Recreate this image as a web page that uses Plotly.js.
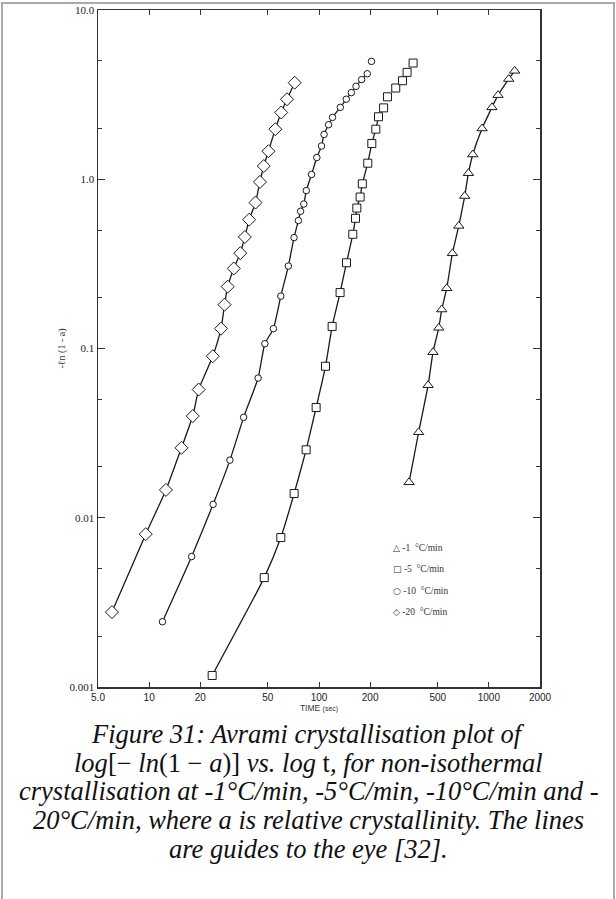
<!DOCTYPE html>
<html><head><meta charset="utf-8">
<script src="https://cdn.plot.ly/plotly-3.0.1.min.js"></script>
<style>
body{margin:0;background:#fff;}
#chart{position:absolute;left:0;top:0;}
#frame{position:absolute;left:1px;top:2px;width:610px;height:905px;border:2px solid #a9a9a9;border-bottom:none;pointer-events:none;}
</style>
</head><body>
<div id="chart"></div><div id="frame"></div>
<script>
// -1 °C/min (triangles)
const t1 = [339, 386, 439, 469, 507, 528, 565, 610, 665, 721, 758, 804, 912, 1043, 1132, 1309, 1419];
const v1 = [0.0162, 0.0320, 0.0607, 0.0951, 0.1325, 0.170, 0.227, 0.365, 0.530, 0.796, 1.086, 1.40, 1.995, 2.66, 3.14, 3.91, 4.37];
// -5 °C/min (squares)
const t5 = [23.5, 47.6, 59.6, 71.4, 84.0, 96.2, 109.2, 119.5, 133.1, 145.2, 158.1, 164.0, 167.0, 174.6, 179.9, 193.7, 204.6, 216, 224, 240, 253, 283, 310, 330, 358];
const v5 = [0.00117, 0.00443, 0.00764, 0.0139, 0.0252, 0.0448, 0.0785, 0.135, 0.214, 0.321, 0.473, 0.588, 0.676, 0.785, 0.940, 1.244, 1.626, 1.976, 2.34, 2.64, 3.07, 3.46, 3.82, 4.28, 4.86];
// -10 °C/min (circles)
const t10 = [11.98, 17.8, 23.8, 29.9, 36.0, 43.8, 48.0, 53.9, 59.6, 66.0, 71.3, 75.6, 77.9, 81.4, 84.2, 90.4, 97.1, 103.5, 107.1, 113.8, 120.1, 133.5, 144.8, 155.0, 165.2, 178.2, 192.4, 203.7];
const v10 = [0.00243, 0.0059, 0.0120, 0.0219, 0.0392, 0.0669, 0.1067, 0.131, 0.204, 0.307, 0.452, 0.570, 0.647, 0.714, 0.857, 1.067, 1.344, 1.572, 1.84, 2.10, 2.32, 2.66, 2.97, 3.25, 3.54, 3.88, 4.20, 4.97];
// -20 °C/min (diamonds)
const t20 = [6.04, 9.55, 12.56, 15.5, 18.07, 19.58, 23.7, 26.5, 27.8, 29.0, 31.5, 34.4, 36.6, 38.8, 42.3, 44.9, 47.3, 50.4, 55.3, 59.9, 64.8, 71.9];
const v20 = [0.00277, 0.0080, 0.0146, 0.0259, 0.0399, 0.0572, 0.090, 0.131, 0.1815, 0.232, 0.297, 0.366, 0.456, 0.577, 0.728, 0.964, 1.197, 1.464, 1.976, 2.48, 2.97, 3.72];

// number of points the guide line passes through, per series
const lineCount = {t1: 17, t5: 19, t10: 27, t20: 22};

const seriesNames = ['-1  °C/min', '-5  °C/min', '-10  °C/min', '-20  °C/min'];
const legendGlyphs = ['△', '□', '○', '◇'];

const xTickVals = [5, 10, 20, 50, 100, 200, 500, 1000, 2000];
const xTickText = ['5.0', '10', '20', '50', '100', '200', '500', '1000', '2000'];
const yTickVals = [0.001, 0.01, 0.1, 1, 10];
const yTickText = ['0.001', '0.01', '0.1', '1.0', '10.0'];
const yMinorVals = [0.002, 0.005, 0.02, 0.05, 0.2, 0.5, 2, 5];

const captionLines = [
  '<i>Figure 31: Avrami crystallisation plot of</i>',
  '<i>log</i>[− <i>ln</i>(1 − <i>a</i>)] <i>vs. log</i> t<i>, for non-isothermal</i>',
  '<i>crystallisation at -1°C/min, -5°C/min, -10°C/min and -</i>',
  '<i>20°C/min, where a is relative crystallinity. The lines</i>',
  '<i>are guides to the eye [32].</i>'
];

const ink = '#1a1a1a';
const series = [
  {t: t1, v: v1, n: lineCount.t1, sym: 'triangle-up', size: 9},
  {t: t5, v: v5, n: lineCount.t5, sym: 'square', size: 8},
  {t: t10, v: v10, n: lineCount.t10, sym: 'circle', size: 6.5},
  {t: t20, v: v20, n: lineCount.t20, sym: 'diamond', size: 10}
];

const traces = [];
series.forEach((s) => {
  traces.push({
    x: s.t.slice(0, s.n), y: s.v.slice(0, s.n), type: 'scatter', mode: 'lines',
    line: {color: ink, width: 1.3, shape: 'spline', smoothing: 0.5},
    hoverinfo: 'skip', showlegend: false
  });
});
series.forEach((s, i) => {
  traces.push({
    x: s.t, y: s.v, type: 'scatter', mode: 'markers', name: seriesNames[i],
    marker: {symbol: s.sym, size: s.size, color: '#fff', line: {color: ink, width: 1}},
    showlegend: false
  });
});

const plotTop = 10, plotBottom = 687, plotLeft = 98, plotRight = 540;
const H = plotBottom - plotTop, W = plotRight - plotLeft;
const py = p => (plotBottom - p) / H;
const px = p => (p - plotLeft) / W;

const annotations = [];
annotations.push({
  xref: 'paper', yref: 'paper', x: px(61), y: 0.5, text: '-ℓn (1 - a)', textangle: -90,
  showarrow: false, xanchor: 'center', yanchor: 'middle',
  font: {family: 'Liberation Serif', size: 10, color: '#333'}
});
const legendRows = [548, 569.3, 590.7, 611.7];
seriesNames.forEach((nm, i) => {
  annotations.push({
    xref: 'paper', yref: 'paper', x: px(391), y: py(legendRows[i]), xanchor: 'left', yanchor: 'middle',
    showarrow: false, text: '<span style="font-family:DejaVu Sans;font-size:9px">' + legendGlyphs[i] + '</span> ' + nm,
    font: {family: 'Liberation Serif', size: 9.5, color: '#333'}
  });
});
const capY = [734, 762.7, 791.4, 820.1, 848.8];
captionLines.forEach((txt, i) => {
  annotations.push({
    xref: 'paper', yref: 'paper', x: px(308), y: py(capY[i]), xanchor: 'center', yanchor: 'middle',
    showarrow: false, text: txt,
    font: {family: 'Liberation Serif', size: 26.5, color: '#111'}
  });
});

const layout = {
  width: 616, height: 899,
  margin: {l: plotLeft, r: 616 - plotRight, t: plotTop, b: 899 - plotBottom, pad: 0},
  paper_bgcolor: '#fff', plot_bgcolor: '#fff', showlegend: false,
  xaxis: {
    type: 'log', range: [Math.log10(5), Math.log10(2000)],
    tickmode: 'array', tickvals: xTickVals, ticktext: xTickText,
    ticks: 'inside', ticklen: 5, tickwidth: 1, tickcolor: '#333',
    showline: true, linecolor: '#333', linewidth: 1.5, mirror: 'ticks',
    showgrid: false, zeroline: false,
    tickfont: {family: 'Liberation Sans', size: 10, color: '#222'},
    title: {text: 'TIME <span style="font-size:7px">(sec)</span>', font: {family: 'Liberation Sans', size: 8.5, color: '#333'}, standoff: 3}
  },
  yaxis: {
    type: 'log', range: [-3, 1],
    tickmode: 'array', tickvals: yTickVals, ticktext: yTickText,
    ticks: 'inside', ticklen: 7, tickwidth: 1, tickcolor: '#333',
    minor: {tickmode: 'array', tickvals: yMinorVals, ticks: 'inside', ticklen: 4, tickcolor: '#333', showgrid: false},
    showline: true, linecolor: '#333', linewidth: 1.5, mirror: 'ticks',
    showgrid: false, zeroline: false,
    tickfont: {family: 'Liberation Serif', size: 11, color: '#222'}
  },
  annotations: annotations
};

Plotly.newPlot('chart', traces, layout, {displayModeBar: false, staticPlot: true});
</script>
</body></html>
